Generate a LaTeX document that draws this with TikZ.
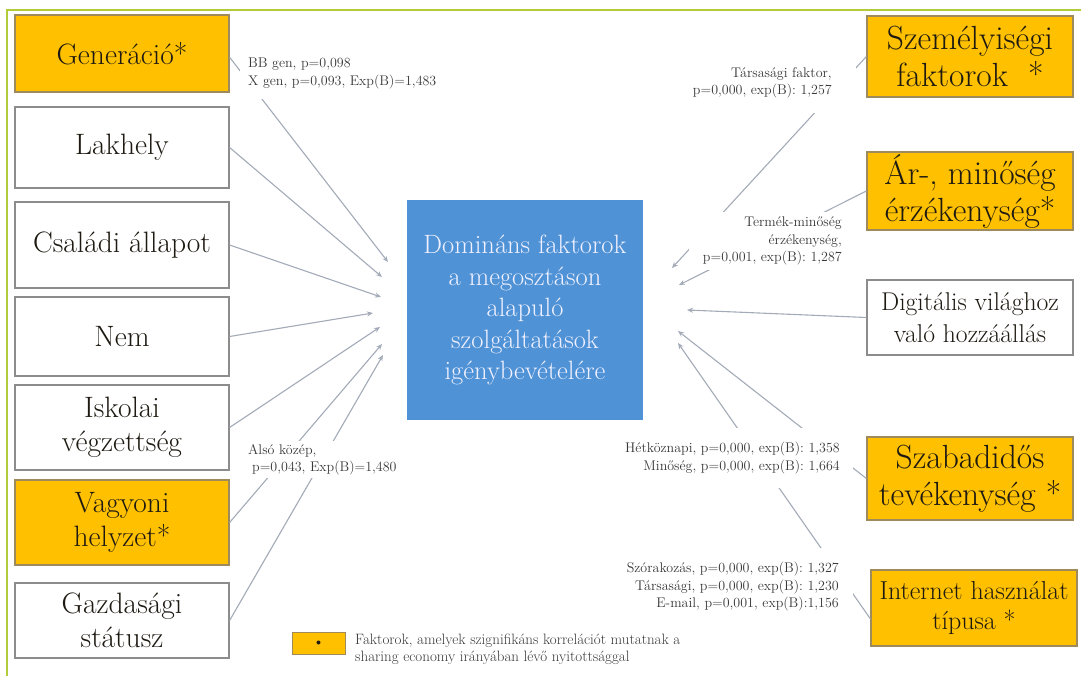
\documentclass[tikz,border=0pt]{standalone}
\usepackage{fontspec}
\usetikzlibrary{arrows.meta,calc}
\definecolor{gold}{HTML}{FFC000}
\definecolor{boxblue}{HTML}{4F93D6}
\definecolor{frameg}{HTML}{B2CB3A}
\definecolor{arrowc}{HTML}{A3AAB8}
\definecolor{edgec}{HTML}{8C8C8C}
\definecolor{goldedge}{HTML}{9E8A5A}
\definecolor{txt}{HTML}{1E1A12}
\definecolor{labtxt}{HTML}{383838}
\newcommand{\heavyfont}[2]{\fontsize{#1}{#2}\selectfont\addfontfeature{FakeBold=0.6}}
\begin{document}
\begin{tikzpicture}[x=1pt,y=-1pt,
  factor/.style={draw=edgec, line width=1.2pt, fill=white, align=center,
    font=\heavyfont{29.5}{34}, text=txt, inner sep=0pt},
  leftbox/.style={factor, minimum width=214pt},
  rightbox/.style={factor, minimum width=206pt, font=\heavyfont{33.5}{37}},
  sig/.style={fill=gold, draw=goldedge},
  lab/.style={fill=white, font=\fontsize{14}{17.5}\selectfont, text=labtxt},
  conn/.style={draw=arrowc, line width=1.1pt, -{Stealth[length=6pt,width=5pt]}}]
\useasboundingbox (0,0) rectangle (1081,676);
\fill[white] (0,0) rectangle (1081,676);
\draw[frameg, line width=2pt] (7,690) -- (7,10) -- (1090,10);

% left column
\node[leftbox, sig, minimum height=77pt] (gen) at (122,53.5) {Generáció*};
\node[leftbox, minimum height=81pt] (lak) at (122,147.5) {Lakhely};
\node[leftbox, minimum height=86pt] (csal) at (122,245) {Családi állapot};
\node[leftbox, minimum height=79pt] (nem) at (122,336.5) {Nem};
\node[leftbox, minimum height=85pt] (isk) at (122,427.5) {Iskolai\\végzettség};
\node[leftbox, sig, minimum height=85pt] (vag) at (122,522.5) {Vagyoni\\helyzet*};
\node[leftbox, minimum height=75pt] (gaz) at (122,620.5) {Gazdasági\\státusz};

% centre
\node[draw=none, fill=boxblue, minimum width=236pt, minimum height=220pt, inner sep=0pt,
  align=center, text=white!94!blue, font=\heavyfont{26.5}{31.5}] (cen) at (525,310)
  {Domináns faktorok\\a megosztáson\\alapuló\\szolgáltatások\\igénybevételére};

% right column
\node[rightbox, sig, minimum height=81pt] (sze) at (970,56.5) {Személyiségi\\faktorok\ \ *};
\node[rightbox, sig, minimum height=78pt] (ar) at (970,191) {Ár-, minőség\\érzékenység*};
\node[rightbox, minimum height=75pt, font=\heavyfont{25.7}{32}] (dig) at (970,317.5) {Digitális világhoz\\való hozzáállás};
\node[rightbox, sig, minimum height=83pt] (szab) at (970,478.5) {Szabadidős\\tevékenység *};
\node[rightbox, sig, minimum height=76pt, font=\heavyfont{26}{30}] (int) at (974,608) {Internet használat\\típusa *};

% arrow ends
\coordinate (e1) at (388,262);
\coordinate (e2) at (382,277);
\coordinate (e3) at (381,297);
\coordinate (e4) at (373,313);
\coordinate (e5) at (380,327);
\coordinate (e6) at (382,344);
\coordinate (e7) at (383,355);
\coordinate (f1) at (672,268);
\coordinate (f2) at (679,285);
\coordinate (f3) at (687,310);
\coordinate (f4) at (678,331);
\coordinate (f5) at (678,343);

\draw[conn] (gen.-2) -- (e1);
\draw[conn] (lak.east) -- (e2);
\draw[conn] (csal.east) -- (e3);
\draw[conn] (nem.east) -- (e4);
\draw[conn] (isk.east) -- (e5);
\draw[conn] (vag.east) -- (e6);
\draw[conn] (gaz.east) -- (e7);
\draw[conn] (sze.west) -- (f1);
\draw[conn] (ar.west) -- (f2);
\draw[conn] (dig.west) -- (f3);
\draw[conn] (szab.west) -- (f4);
\draw[conn] (int.186) -- (f5);

% labels
\node[lab, align=left, anchor=north west, inner xsep=8pt, inner ysep=10pt] (l1) at (240,48)
  {BB gen, p=0,098\\X gen, p=0,093, Exp(B)=1,483};
\node[lab, align=right, anchor=north east, inner xsep=24pt, inner ysep=15pt] (l2) at (856,52)
  {Társasági faktor,\\p=0,000, exp(B): 1,257};
\node[lab, align=right, anchor=north east, inner xsep=14pt, inner ysep=5pt] (l3) at (856,212)
  {Termék-minőség\\érzékenység,\\p=0,001, exp(B): 1,287};
\node[lab, align=right, anchor=north east, inner xsep=13pt, inner ysep=14pt] (l4) at (853,428)
  {Hétköznapi, p=0,000, exp(B): 1,358\\Minőség, p=0,000, exp(B): 1,664};
\node[lab, align=right, anchor=north east, inner xsep=14pt, inner ysep=14pt] (l5) at (853,548)
  {Szórakozás, p=0,000, exp(B): 1,327\\Társasági, p=0,000, exp(B): 1,230\\E-mail, p=0,001, exp(B):1,156};
\node[lab, align=left, anchor=north west, inner xsep=8pt, inner ysep=3pt] (l6) at (240,441)
  {Alsó közép,\\\hspace{4pt}p=0,043, Exp(B)=1,480};

% legend
\node[draw=goldedge, fill=gold, line width=1pt, minimum width=53pt, minimum height=22pt, inner sep=0pt,
  font=\fontsize{10}{10}\selectfont, text=txt] (leg) at (318.5,643) {$\bullet$};
\node[lab, fill=none, align=left, anchor=north west, inner sep=0pt, font=\fontsize{15}{16.5}\selectfont] (legt) at (355,634)
  {Faktorok, amelyek szignifikáns korrelációt mutatnak a\\sharing economy irányában lévő nyitottsággal};
\end{tikzpicture}
\end{document}
